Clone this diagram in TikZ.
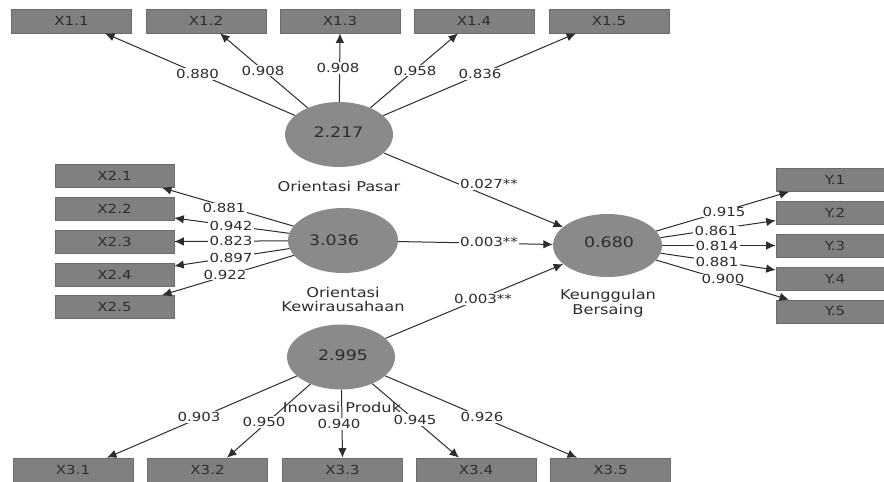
\documentclass[tikz,border=0pt]{standalone}
\usepackage{fontspec}
\setmainfont{DejaVu Sans}[FakeStretch=1.2]
\usetikzlibrary{shapes.geometric,arrows.meta}
\definecolor{boxfill}{RGB}{128,128,128}
\definecolor{boxline}{RGB}{108,108,108}
\definecolor{circfill}{RGB}{138,138,138}
\definecolor{linecol}{RGB}{45,45,45}
\definecolor{txtcol}{RGB}{45,45,45}
\begin{document}
\begin{tikzpicture}[x=1pt,y=-1pt,
  indbox/.style={draw=boxline, line width=0.6pt, fill=boxfill, minimum width=120pt, minimum height=24pt, inner sep=0pt, text=txtcol, font=\fontsize{12.5}{15}\selectfont},
  latent/.style={ellipse, fill=circfill, draw=none, inner sep=0pt, minimum width=108pt, minimum height=65pt},
  valtxt/.style={text=txtcol, font=\fontsize{14.5}{16}\selectfont, inner sep=0pt},
  lvname/.style={text=txtcol, font=\fontsize{13.5}{14.5}\selectfont, align=center, inner sep=0pt},
  wlabel/.style={fill=white, text=txtcol, font=\fontsize{12.5}{15}\selectfont, inner sep=1.2pt},
  arrowline/.style={draw=linecol, line width=1pt, -{Latex[length=9.5pt,width=8.5pt]}},
]
\fill[white] (0,0) rectangle (884,482);
\useasboundingbox (0,0) rectangle (884,482);
\clip (0,0) rectangle (884,482);

% indicator boxes: top
\node[indbox] (x11) at (71.5,21) {X1.1};
\node[indbox] (x12) at (206,21) {X1.2};
\node[indbox] (x13) at (340,21) {X1.3};
\node[indbox] (x14) at (474,21) {X1.4};
\node[indbox] (x15) at (609,21) {X1.5};
% left
\node[indbox, minimum width=119pt, minimum height=23pt] (x21) at (114.5,176) {X2.1};
\node[indbox, minimum width=119pt, minimum height=23pt] (x22) at (114.5,209) {X2.2};
\node[indbox, minimum width=119pt, minimum height=23pt] (x23) at (114.5,241.5) {X2.3};
\node[indbox, minimum width=119pt, minimum height=23pt] (x24) at (114.5,275) {X2.4};
\node[indbox, minimum width=119pt, minimum height=23pt] (x25) at (114.5,307) {X2.5};
% right
\node[indbox, minimum width=118pt, minimum height=23pt] (y1) at (835,180) {Y.1};
\node[indbox, minimum width=118pt, minimum height=23pt] (y2) at (835,212.5) {Y.2};
\node[indbox, minimum width=118pt, minimum height=23pt] (y3) at (835,245.5) {Y.3};
\node[indbox, minimum width=118pt, minimum height=23pt] (y4) at (835,278.5) {Y.4};
\node[indbox, minimum width=118pt, minimum height=23pt] (y5) at (835,311.5) {Y.5};
% bottom
\node[indbox] (x31) at (73,470) {X3.1};
\node[indbox] (x32) at (207.5,470) {X3.2};
\node[indbox] (x33) at (342.5,470) {X3.3};
\node[indbox] (x34) at (476,470) {X3.4};
\node[indbox] (x35) at (610.5,470) {X3.5};

% latent variables
\node[latent] (op) at (339,134.5) {};
\node[latent, minimum width=110pt] (ok) at (343,240.5) {};
\node[latent, minimum width=109pt, minimum height=63pt] (kb) at (607.5,245.5) {};
\node[latent] (ip) at (341,357) {};

\node[valtxt] (vop) at (338.5,132) {2.217};
\node[valtxt] (vok) at (334,240.5) {3.036};
\node[valtxt] (vkb) at (609,242) {0.680};
\node[valtxt] (vip) at (343,355) {2.995};

\node[lvname] (nop) at (339,186) {Orientasi Pasar};
\node[lvname] (nok) at (343,299.5) {Orientasi\\Kewirausahaan};
\node[lvname, font=\fontsize{13.5}{15}\selectfont] (nkb) at (608,303.5) {Keunggulan\\Bersaing};
\node[lvname] (nip) at (342,407) {Inovasi Produk};

% outer loadings
\draw[arrowline] (op) -- ([xshift=33.5pt]x11.south);
\draw[arrowline] (op) -- ([xshift=14pt]x12.south);
\draw[arrowline] (op) -- (x13.south);
\draw[arrowline] (op) -- ([xshift=-16pt]x14.south);
\draw[arrowline] (op) -- ([xshift=-33pt]x15.south);

\draw[arrowline] (ok) -- ([xshift=47.5pt]x21.south);
\draw[arrowline] (ok) -- ([yshift=-9pt]x22.east);
\draw[arrowline] (ok) -- (x23.east);
\draw[arrowline] (ok) -- ([yshift=9pt]x24.east);
\draw[arrowline] (ok) -- ([xshift=47.5pt]x25.north);

\draw[arrowline] (kb) -- ([xshift=-46pt]y1.south);
\draw[arrowline] (kb) -- ([yshift=-8pt]y2.west);
\draw[arrowline] (kb) -- (y3.west);
\draw[arrowline] (kb) -- ([yshift=8.5pt]y4.west);
\draw[arrowline] (kb) -- ([xshift=-46pt]y5.north);

\draw[arrowline] (ip) -- ([xshift=34pt]x31.north);
\draw[arrowline] (ip) -- ([xshift=19.5pt]x32.north);
\draw[arrowline] (ip) -- (x33.north);
\draw[arrowline] (ip) -- ([xshift=-17pt]x34.north);
\draw[arrowline] (ip) -- ([xshift=-33.5pt]x35.north);

% structural paths
\draw[arrowline] (op) -- (kb);
\draw[arrowline] (ok) -- (kb);
\draw[arrowline] (ip) -- (kb);

% weights
\node[wlabel] (w11) at (197.5,74) {0.880};
\node[wlabel] (w12) at (263,70.5) {0.908};
\node[wlabel] (w13) at (338,68) {0.908};
\node[wlabel] (w14) at (415,70.5) {0.958};
\node[wlabel] (w15) at (480,74) {0.836};

\node[wlabel, inner ysep=0.3pt] (w21) at (224,208) {0.881};
\node[wlabel, inner ysep=0.3pt] (w22) at (231,226) {0.942};
\node[wlabel, inner ysep=0.3pt] (w23) at (231,241) {0.823};
\node[wlabel, inner ysep=0.3pt] (w24) at (231,258) {0.897};
\node[wlabel, inner ysep=0.3pt] (w25) at (225,275) {0.922};

\node[wlabel, inner ysep=0.3pt] (wy1) at (724,212) {0.915};
\node[wlabel, inner ysep=0.3pt] (wy2) at (716,231) {0.861};
\node[wlabel, inner ysep=0.3pt] (wy3) at (717,245.5) {0.814};
\node[wlabel, inner ysep=0.3pt] (wy4) at (717,262) {0.881};
\node[wlabel, inner ysep=0.3pt] (wy5) at (723,279) {0.900};

\node[wlabel] (w31) at (199,417) {0.903};
\node[wlabel] (w32) at (264,422) {0.950};
\node[wlabel] (w33) at (339,424) {0.940};
\node[wlabel] (w34) at (415,420) {0.945};
\node[wlabel] (w35) at (482,417) {0.926};

\node[wlabel] (p1) at (489,184) {0.027**};
\node[wlabel] (p2) at (489,242) {0.003**};
\node[wlabel] (p3) at (483,299) {0.003**};
\end{tikzpicture}
\end{document}
